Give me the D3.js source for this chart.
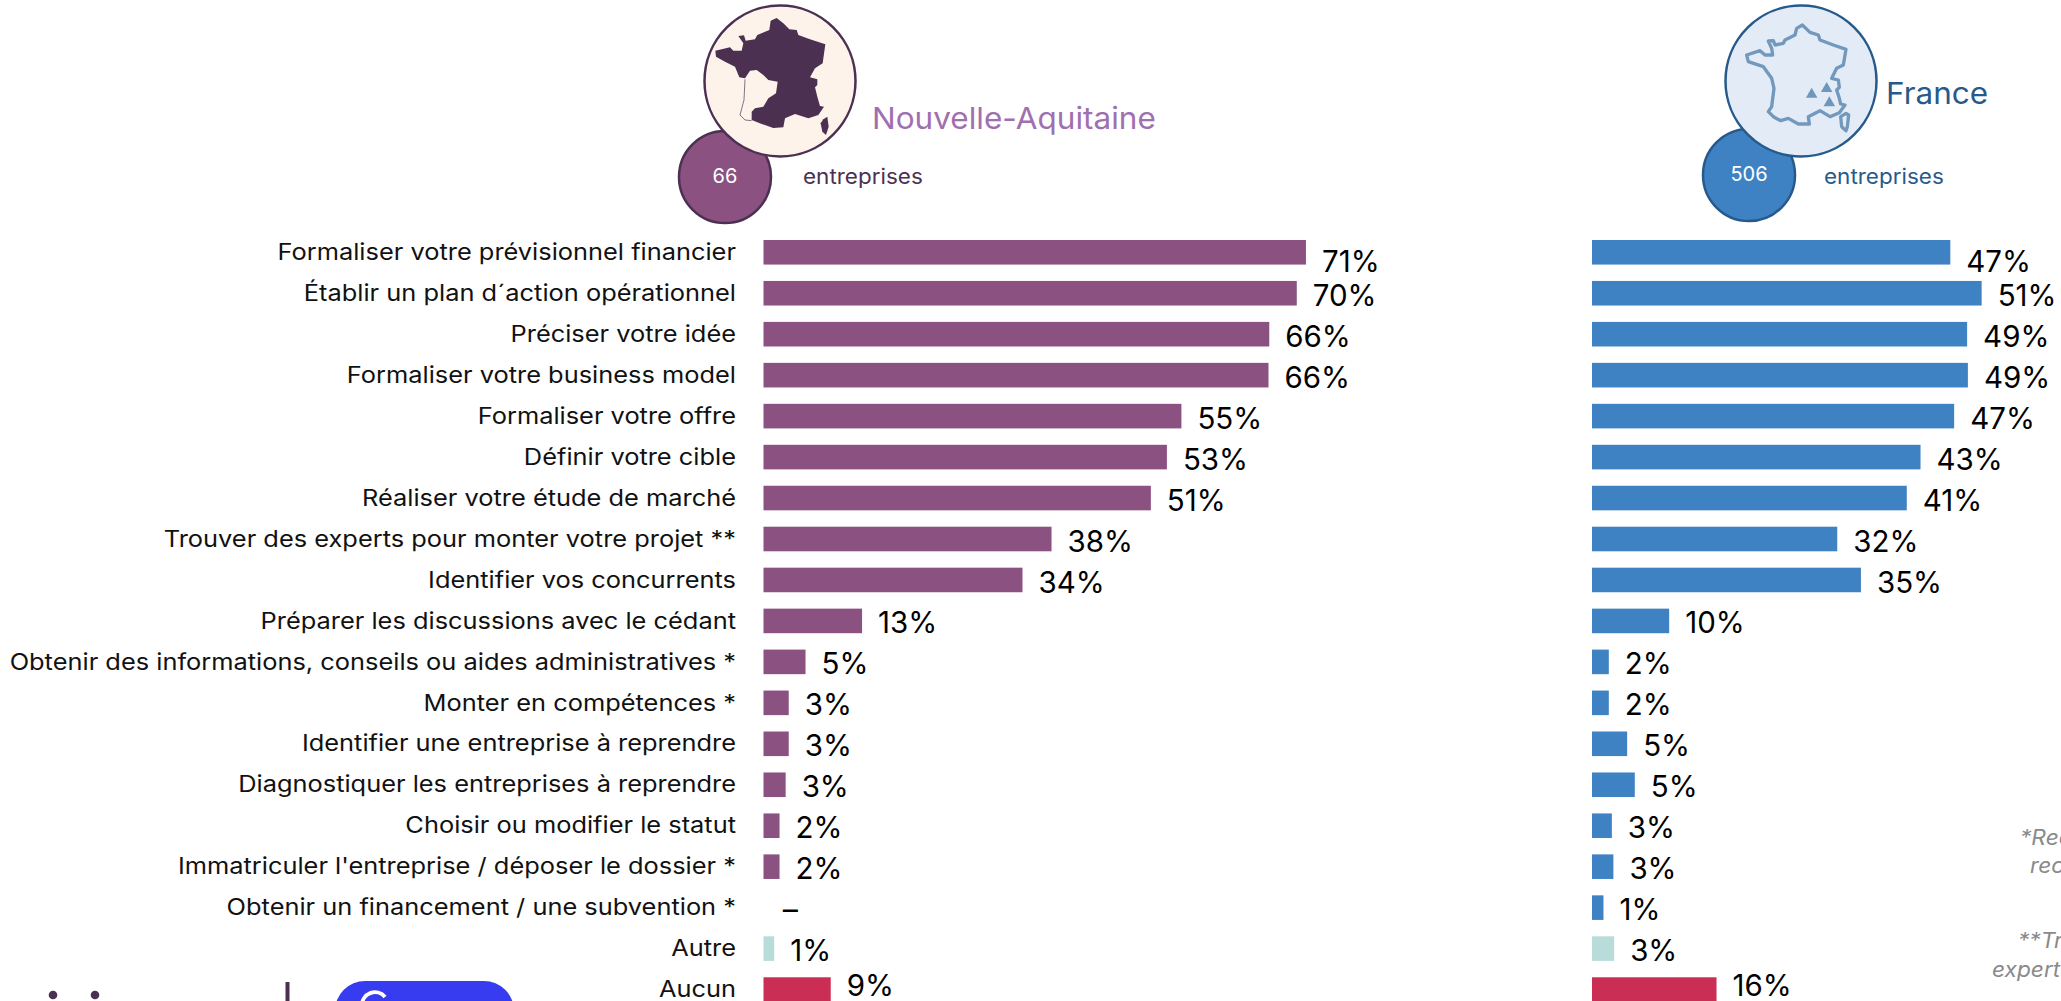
<!DOCTYPE html>
<html lang="fr"><head><meta charset="utf-8">
<script src="https://cdn.jsdelivr.net/npm/d3@7"></script>
<style>
html,body{margin:0;padding:0;background:#fff;overflow:hidden}
svg{display:block}
text{font-family:Inter,"Open Sans",sans-serif}
</style></head><body>
<svg id="c" width="2061" height="1001"></svg>
<script>
const categories=["Formaliser votre prévisionnel financier","Établir un plan d´action opérationnel","Préciser votre idée","Formaliser votre business model","Formaliser votre offre","Définir votre cible","Réaliser votre étude de marché","Trouver des experts pour monter votre projet **","Identifier vos concurrents","Préparer les discussions avec le cédant","Obtenir des informations, conseils ou aides administratives *","Monter en compétences *","Identifier une entreprise à reprendre","Diagnostiquer les entreprises à reprendre","Choisir ou modifier le statut","Immatriculer l'entreprise / déposer le dossier *","Obtenir un financement / une subvention *","Autre","Aucun"];
const naValues=[71.0,69.8,66.2,66.1,54.7,52.8,50.7,37.7,33.9,12.9,5.5,3.3,3.3,2.9,2.1,2.1,null,1.4,8.8];
const frValues=[46.9,51.0,49.1,49.2,47.4,43.0,41.2,32.1,35.2,10.1,2.2,2.2,4.6,5.6,2.6,2.8,1.5,2.9,16.3];
const naLabels=["71%","70%","66%","66%","55%","53%","51%","38%","34%","13%","5%","3%","3%","3%","2%","2%","-","1%","9%"];
const frLabels=["47%","51%","49%","49%","47%","43%","41%","32%","35%","10%","2%","2%","5%","5%","3%","3%","1%","3%","16%"];
const franceOutline=[[80,165],[120,152],[135,165],[158,165],[155,145],[145,123],[160,122],[165,135],[190,130],[195,120],[225,105],[230,85],[247,75],[270,97],[295,105],[300,120],[340,135],[378,148],[370,195],[350,205],[335,235],[355,240],[358,262],[350,270],[358,295],[362,312],[375,315],[358,338],[330,350],[300,332],[265,350],[268,372],[235,372],[205,355],[182,362],[160,350],[145,335],[155,320],[162,265],[155,235],[130,200],[85,185]];
const corsicaOutline=[[378,340],[386,345],[382,380],[378,392],[365,380],[362,350]];
const alpsPeaks=[[275,283],[320,266],[328,309]];
const regionOutline=[[46,152],[90,142],[100,152],[125,152],[130,130],[115,108],[132,106],[137,122],[165,118],[172,105],[208,90],[212,62],[230,54],[250,70],[268,88],[290,90],[295,105],[330,118],[376,133],[368,190],[345,205],[330,232],[352,238],[352,255],[345,262],[352,290],[360,318],[372,320],[355,345],[325,355],[285,342],[255,355],[250,382],[220,384],[185,372],[155,360],[155,335],[165,325],[190,320],[205,295],[228,280],[233,245],[205,240],[190,225],[170,210],[150,212],[135,235],[118,232],[105,200],[75,185],[48,170]];
const regionCoast=[[135,238],[132,300],[120,345],[135,360],[155,362]];
const regionCorsica=[[382,350],[386,380],[378,405],[367,395],[362,370],[370,358]];
const notes=[["*Rec",2020,845],["rec",2030,873],["**Tr",2018,948],["expert",1992,977]];

const svg=d3.select("#c");
const x=d3.scaleLinear().domain([0,100]).range([0,764]);
const y=d3.scaleBand().domain(categories).range([231.8,231.8+40.96*19]).paddingInner(0.4).paddingOuter(0.2);
const line=d3.line().curve(d3.curveLinearClosed);
const open=d3.line();
const LABEL_X=736, NA_X=763.5, FR_X=1592;
const labelFont=22.6, valueFont=29.5;

// The reference face is wider than the installed faces: widen the glyphs to match.
function widen(sel,r){sel.each(function(d,i){
  const k=typeof r==="function"?r.call(this,d,i):r;
  this.setAttribute("textLength",this.getComputedTextLength()*k);
  this.setAttribute("lengthAdjust","spacingAndGlyphs");
});}

svg.append("g").selectAll("text").data(categories).join("text")
  .attr("x",LABEL_X).attr("y",d=>y(d)+y.bandwidth()/2+1.5).attr("text-anchor","end")
  .attr("dominant-baseline","middle").attr("font-size",labelFont).attr("fill","#111").text(d=>d)
  .call(widen,1.124);

function barColor(i,base){return categories[i]==="Autre"?"#b8dcda":categories[i]==="Aucun"?"#cb2e55":base;}
function labelDy(i){return i===0?11.5:i===1?5:i===categories.length-1?-1.5:4.5;}
function drawSeries(x0,values,labels,base){
  const g=svg.append("g").attr("transform",`translate(${x0},0)`);
  g.selectAll("rect").data(values).join("rect")
    .attr("x",0).attr("y",(d,i)=>y(categories[i])).attr("height",y.bandwidth())
    .attr("width",d=>d==null?0:x(d)).attr("fill",(d,i)=>barColor(i,base));
  g.selectAll("text").data(values).join("text")
    .attr("x",d=>(d==null?0:x(d))+16)
    .attr("y",(d,i)=>y(categories[i])+y.bandwidth()/2+labelDy(i))
    .attr("dominant-baseline","middle").attr("font-size",valueFont).attr("fill","#000")
    .text((d,i)=>labels[i])
    .call(widen,(d,i)=>labels[i]==="-"?1.6:1);
}
drawSeries(NA_X,naValues,naLabels,"#8b5180");
drawSeries(FR_X,frValues,frLabels,"#3f82c3");

function header(o){
  const g=svg.append("g");
  g.append("circle").attr("cx",o.sx).attr("cy",o.sy).attr("r",46).attr("fill",o.small).attr("stroke",o.stroke).attr("stroke-width",2.5);
  g.append("circle").attr("cx",o.bx).attr("cy",81).attr("r",75.5).attr("fill",o.big).attr("stroke",o.stroke).attr("stroke-width",2.5);
  g.append("text").attr("x",o.sx).attr("y",o.sy+1).attr("text-anchor","middle").attr("dominant-baseline","middle").attr("font-size",20).attr("fill","#fff").text(o.n);
  g.append("text").attr("x",o.ex).attr("y",184).attr("font-size",21).attr("fill",o.stroke).text("entreprises").call(widen,1.07);
  g.append("text").attr("x",o.tx).attr("y",o.ty).attr("font-size",30).attr("fill",o.title).text(o.name).call(widen,1.05);
  return g.append("g").attr("transform",`translate(${o.mx},0) scale(${1/3})`);
}
const m1=header({sx:725,sy:177,bx:780,small:"#8b5180",big:"#fdf3ea",stroke:"#4b3052",title:"#a06fb0",n:"66",ex:803,tx:872,ty:129,name:"Nouvelle-Aquitaine",mx:700});
m1.append("path").attr("d",line(regionOutline)).attr("fill","#4b3052");
m1.append("path").attr("d",line(regionCorsica)).attr("fill","#4b3052");
m1.append("path").attr("d",open(regionCoast)).attr("fill","none").attr("stroke","#4b3052").attr("stroke-width",2);
const m2=header({sx:1749,sy:175,bx:1801,small:"#3f82c3",big:"#e3ecf6",stroke:"#275a8c",title:"#275a8c",n:"506",ex:1824,tx:1886,ty:104,name:"France",mx:1720});
m2.append("path").attr("d",line(franceOutline)).attr("fill","none").attr("stroke","#7299bd").attr("stroke-width",10).attr("stroke-linejoin","round");
m2.append("path").attr("d",line(corsicaOutline)).attr("fill","none").attr("stroke","#7299bd").attr("stroke-width",10).attr("stroke-linejoin","round");
m2.selectAll("path.t").data(alpsPeaks).join("path").attr("class","t")
  .attr("d",d3.symbol(d3.symbolTriangle,520)()).attr("transform",d=>`translate(${d[0]},${d[1]})`).attr("fill","#6f97bb");

svg.append("g").selectAll("text").data(notes).join("text")
  .attr("x",d=>d[1]).attr("y",d=>d[2]).attr("font-size",21).attr("font-style","italic").attr("fill","#8a8a8a").text(d=>d[0])
  .call(widen,1.08);

// logos cut off at the bottom edge
svg.append("circle").attr("cx",53).attr("cy",995).attr("r",4.3).attr("fill","#4b3052");
svg.append("circle").attr("cx",95).attr("cy",995).attr("r",4.3).attr("fill","#4b3052");
svg.append("rect").attr("x",285.5).attr("y",982).attr("width",4).attr("height",25).attr("fill","#4b3052");
svg.append("rect").attr("x",335).attr("y",981).attr("width",179).attr("height",60).attr("rx",30).attr("fill","#383cf0");
svg.append("path").attr("d","M385 997 A13 13 0 0 0 362 1006").attr("fill","none").attr("stroke","#fff").attr("stroke-width",4);
</script></body></html>
